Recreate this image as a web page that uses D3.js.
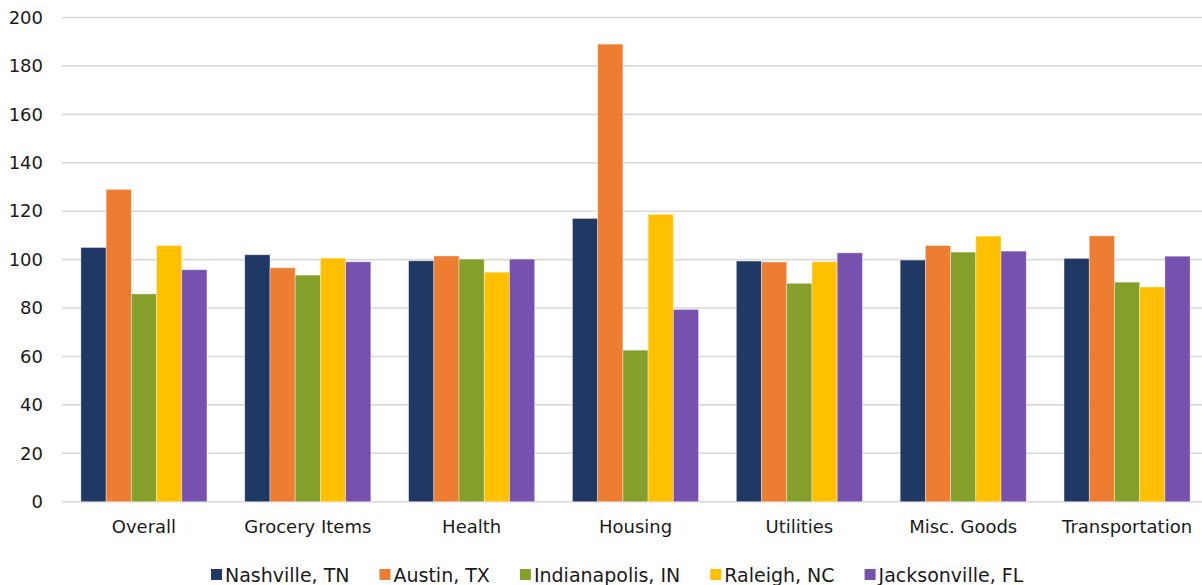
<!DOCTYPE html>
<html>
<head>
<meta charset="utf-8">
<script src="https://cdn.jsdelivr.net/npm/d3@7"></script>
<style>
  body { margin: 0; background: #fff; }
  text { font-family: "DejaVu Sans", Verdana, sans-serif; fill: #1a1a1a; }
</style>
</head>
<body>
<div class="chart"></div>
<script>
// categories and series
var categories = ["Overall", "Grocery Items", "Health", "Housing", "Utilities", "Misc. Goods", "Transportation"];
var cities = ["Nashville, TN", "Austin, TX", "Indianapolis, IN", "Raleigh, NC", "Jacksonville, FL"];
var colors = ["#203864", "#ED7D31", "#84A02B", "#FFC000", "#7651AE"];

var nashville = [105, 102, 99.5, 117, 99.4, 99.8, 100.5];
var austin = [129, 96.6, 101.5, 189, 99, 105.8, 109.8];
var indianapolis = [85.8, 93.6, 100.2, 62.6, 90.2, 103.1, 90.7];
var raleigh = [105.8, 100.6, 94.8, 118.7, 99.1, 109.7, 88.7];
var jacksonville = [95.8, 99.1, 100.2, 79.4, 102.8, 103.5, 101.4];

var yTicks = [0, 20, 40, 60, 80, 100, 120, 140, 160, 180, 200];

var seriesValues = [nashville, austin, indianapolis, raleigh, jacksonville];

//svg dimensions
var svgWidth = 1202;
var svgHeight = 585;

var svg = d3.select(".chart")
  .append("svg")
  .attr("width", svgWidth)
  .attr("height", svgHeight);

//scales
var x0 = d3.scaleBand()
  .domain(categories)
  .range([62, 1209])
  .padding(0);

var groupGap = 18.9;
var x1 = d3.scaleBand()
  .domain(cities)
  .range([groupGap, x0.bandwidth() - groupGap])
  .padding(0);

var y = d3.scaleLinear()
  .domain([0, 200])
  .range([501.7, 17.5]);

//gridlines
svg.append("g")
  .selectAll("line")
  .data(yTicks)
  .enter()
  .append("line")
  .attr("x1", 62)
  .attr("x2", 1209)
  .attr("y1", d => y(d))
  .attr("y2", d => y(d))
  .attr("stroke", "#D9D9D9")
  .attr("stroke-width", 1.6);

//y axis labels
var leftAxis = d3.axisLeft(y).tickValues(yTicks).tickSize(0).tickPadding(0);
var yAxis = svg.append("g")
  .attr("transform", "translate(43, 0)")
  .call(leftAxis);
yAxis.select(".domain").remove();
yAxis.selectAll("text")
  .attr("font-size", 18)
  .attr("font-family", "DejaVu Sans, Verdana, sans-serif")
  .attr("fill", "#1a1a1a");

//bars
var groups = svg.append("g")
  .selectAll("g")
  .data(categories)
  .enter()
  .append("g")
  .attr("transform", d => `translate(${x0(d)}, 0)`);

groups.selectAll("rect")
  .data((cat, ci) => cities.map((city, si) => ({ city: city, si: si, value: seriesValues[si][ci] })))
  .enter()
  .append("rect")
  .attr("x", d => x1(d.city))
  .attr("y", d => y(d.value))
  .attr("width", x1.bandwidth())
  .attr("height", d => y(0) - y(d.value))
  .attr("fill", d => colors[d.si])
  .attr("stroke", "rgba(255,255,255,0.45)")
  .attr("stroke-width", 0.8);

//x axis labels
var bottomAxis = d3.axisBottom(x0).tickSize(0).tickPadding(0);
var xAxis = svg.append("g")
  .attr("transform", "translate(0, 519)")
  .call(bottomAxis);
xAxis.select(".domain").remove();
xAxis.selectAll("text")
  .attr("font-size", 18)
  .attr("font-family", "DejaVu Sans, Verdana, sans-serif")
  .attr("fill", "#1a1a1a")
  .attr("dy", "0.78em");

//legend
var legend = svg.append("g").attr("transform", "translate(211, 575)");
var lx = 0;
cities.forEach(function(city, i) {
  var item = legend.append("g").attr("transform", `translate(${lx}, 0)`);
  item.append("rect")
    .attr("x", 0)
    .attr("y", -6)
    .attr("width", 11)
    .attr("height", 11)
    .attr("fill", colors[i]);
  var t = item.append("text")
    .attr("x", 14)
    .attr("y", 0)
    .attr("dy", "0.36em")
    .attr("font-size", 19)
    .text(city);
  lx += 14 + t.node().getComputedTextLength() + 30;
});
</script>
</body>
</html>
